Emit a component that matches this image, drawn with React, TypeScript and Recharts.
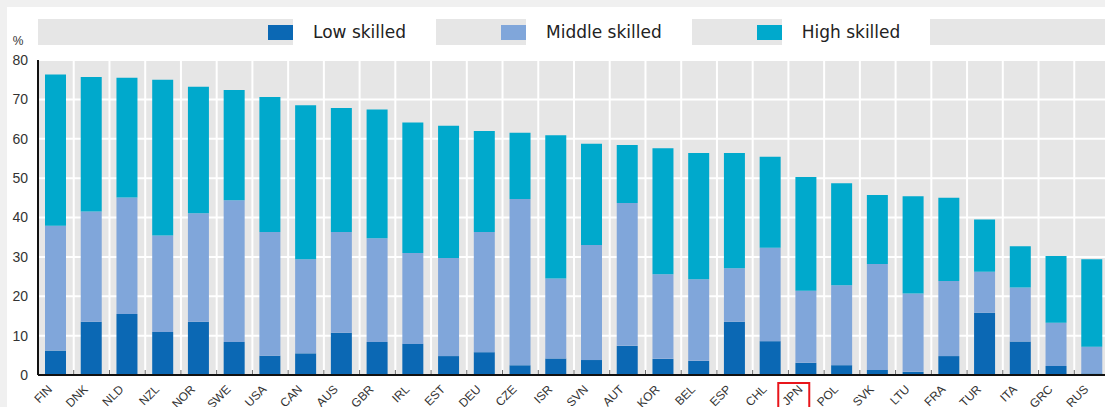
import React from "react";
import {
  BarChart,
  Bar,
  XAxis,
  YAxis,
  CartesianGrid,
  Legend,
} from "recharts";

const countries = [
  "FIN", "DNK", "NLD", "NZL", "NOR", "SWE", "USA", "CAN", "AUS", "GBR",
  "IRL", "EST", "DEU", "CZE", "ISR", "SVN", "AUT", "KOR", "BEL", "ESP",
  "CHL", "JPN", "POL", "SVK", "LTU", "FRA", "TUR", "ITA", "GRC", "RUS",
];

const lowSkilled = [
  6.2, 13.5, 15.5, 10.9, 13.5, 8.4, 4.9, 5.5, 10.7, 8.4,
  7.9, 4.8, 5.8, 2.5, 4.2, 3.8, 7.4, 4.1, 3.6, 13.5,
  8.6, 3.1, 2.5, 1.3, 0.8, 4.8, 15.8, 8.5, 2.3, 0.4,
];

const middleSkilled = [
  31.7, 28.0, 29.6, 24.5, 27.6, 36.0, 31.4, 23.9, 25.6, 26.3,
  23.1, 24.9, 30.5, 42.2, 20.3, 29.2, 36.3, 21.5, 20.7, 13.6,
  23.7, 18.3, 20.3, 26.9, 19.9, 19.1, 10.4, 13.7, 11.0, 6.8,
];

const highSkilled = [
  38.4, 34.2, 30.4, 39.6, 32.1, 28.0, 34.3, 39.1, 31.5, 32.7,
  33.1, 33.6, 25.7, 16.8, 36.4, 25.7, 14.7, 32.0, 32.1, 29.3,
  23.1, 28.9, 25.9, 17.5, 24.7, 21.1, 13.3, 10.5, 16.9, 22.2,
];

const yTicks = [0, 10, 20, 30, 40, 50, 60, 70, 80];
const highlighted = "JPN";
const seriesOrder = ["low", "middle", "high"];

const rows = countries.map((country, i) => ({
  country,
  low: lowSkilled[i],
  middle: middleSkilled[i],
  high: highSkilled[i],
}));

const COLORS = {
  low: "#0b68b4",
  middle: "#80a6da",
  high: "#00a9cc",
};

const CountryTick = (props: any) => {
  const { x, y, payload, width } = props;
  const band = (width || 1071) / countries.length;
  const isHi = payload.value === highlighted;
  return (
    <g>
      <line
        x1={x + band / 2}
        x2={x + band / 2}
        y1={y - 5}
        y2={y - 1}
        stroke="#666"
        strokeWidth={1}
      />
      <text
        x={0}
        y={0}
        transform={`translate(${x - 3},${y + 15}) rotate(-45)`}
        textAnchor="end"
        fontFamily="'Liberation Sans', Arial, sans-serif"
        fontSize={12}
        fill="#333"
      >
        {payload.value}
      </text>
      {isHi && (
        <rect
          x={x - 28}
          y={y + 8}
          width={31}
          height={40}
          fill="none"
          stroke="#e8151b"
          strokeWidth={2}
        />
      )}
    </g>
  );
};

const renderLegend = (props: any) => {
  const payload = [...(props.payload || [])].sort(
    (a: any, b: any) =>
      seriesOrder.indexOf(a.dataKey) - seriesOrder.indexOf(b.dataKey)
  );
  return (
    <div
      style={{
        width: 1067,
        height: 26,
        background: "#e6e6e6",
        display: "flex",
        alignItems: "stretch",
        paddingLeft: 230,
        boxSizing: "border-box",
        fontFamily: "'DejaVu Sans', Verdana, sans-serif",
        fontSize: 17,
        color: "#222",
      }}
    >
      {payload.map((entry: any, i: number) => (
        <div
          key={entry.value}
          style={{
            display: "flex",
            alignItems: "center",
            marginLeft: i === 0 ? 0 : 65,
          }}
        >
          <span
            style={{
              display: "inline-block",
              width: 25,
              height: 15,
              background: entry.color,
            }}
          />
          <span
            style={{
              background: "#fff",
              height: 26,
              lineHeight: "26px",
              padding: "0 30px 0 20px",
            }}
          >
            {entry.value}
          </span>
        </div>
      ))}
    </div>
  );
};

const PercentLabel = (props: any) => {
  const { viewBox } = props;
  return (
    <text
      x={viewBox.x + 18}
      y={viewBox.y - 15}
      textAnchor="middle"
      fontFamily="'Liberation Sans', Arial, sans-serif"
      fontSize={12}
      fill="#333"
    >
      %
    </text>
  );
};

export default function App() {
  return (
    <div
      style={{
        position: "relative",
        width: 1105,
        height: 407,
        overflow: "hidden",
        background: "#f0f0f0",
      }}
    >
      <style>{"body{margin:0}"}</style>
      <div
        style={{
          position: "absolute",
          left: 7,
          top: 7,
          right: 0,
          bottom: 0,
          background: "#fff",
        }}
      />
      <div style={{ position: "absolute", left: 0, top: 0 }}>
        <BarChart
          width={1110}
          height={407}
          data={rows}
          margin={{ top: 60, right: 0, bottom: 0, left: 0 }}
          barSize={21}
        >
          <CartesianGrid
            fill="#e6e6e6"
            stroke="#fff"
            strokeWidth={2}
            verticalCoordinatesGenerator={({ offset }: any) =>
              countries.map(
                (_, i) => offset.left + (i * offset.width) / countries.length
              )
            }
          />
          <XAxis
            dataKey="country"
            interval={0}
            tickLine={false}
            tickSize={0}
            tickMargin={0}
            height={32}
            axisLine={{ stroke: "#111", strokeWidth: 2 }}
            tick={<CountryTick />}
          />
          <YAxis
            width={38}
            domain={[0, 80]}
            ticks={yTicks}
            interval={0}
            tickLine={false}
            tickSize={0}
            tickMargin={10}
            axisLine={{ stroke: "#111", strokeWidth: 2 }}
            tick={{
              fontFamily: "'Liberation Sans', Arial, sans-serif",
              fontSize: 14,
              fill: "#333",
            }}
            label={<PercentLabel />}
          />
          <Legend
            layout="vertical"
            align="center"
            verticalAlign="middle"
            content={renderLegend}
            wrapperStyle={{ top: 19, left: 38, width: 1067, height: 26 }}
          />
          <Bar dataKey="low" name="Low skilled" stackId="a" fill={COLORS.low} isAnimationActive={false} />
          <Bar dataKey="middle" name="Middle skilled" stackId="a" fill={COLORS.middle} isAnimationActive={false} />
          <Bar dataKey="high" name="High skilled" stackId="a" fill={COLORS.high} isAnimationActive={false} />
        </BarChart>
      </div>
    </div>
  );
}
